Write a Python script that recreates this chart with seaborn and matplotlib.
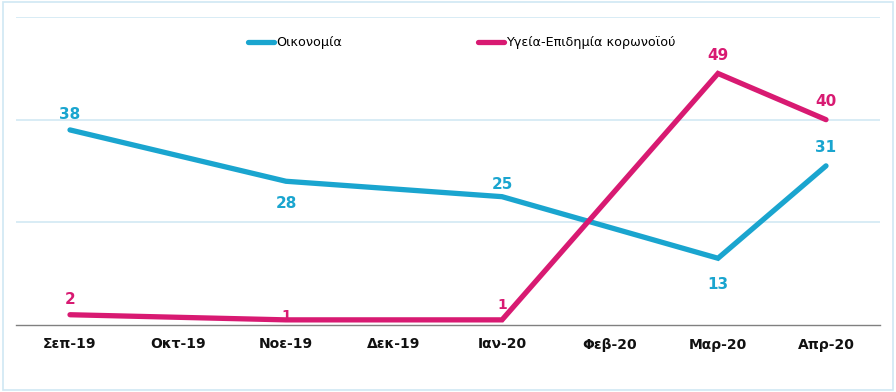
import numpy as np
import pandas as pd
import matplotlib.pyplot as plt
import seaborn as sns

months = ['Σεπ-19', 'Οκτ-19', 'Νοε-19', 'Δεκ-19', 'Ιαν-20', 'Φεβ-20', 'Μαρ-20', 'Απρ-20']
survey_months = ['Σεπ-19', 'Νοε-19', 'Ιαν-20', 'Μαρ-20', 'Απρ-20']
economy = [38, 28, 25, 13, 31]
health = [2, 1, 1, 49, 40]

c_econ = '#1aa5cf'
c_health = '#d81a72'

# long format for seaborn
df = pd.DataFrame({
    'month': survey_months * 2,
    'value': economy + health,
    'series': ['Οικονομία'] * len(economy) + ['Υγεία-Επιδημία κορωνοϊού'] * len(health),
})
df['pos'] = df['month'].map({m: i for i, m in enumerate(months)})

sns.set_style('white')
plt.rcParams['font.family'] = ['DejaVu Sans']

fig = plt.figure(figsize=(8.96, 3.92), dpi=100)
ax = fig.add_axes([16 / 896, 1 - 325 / 392, 864 / 896, 308 / 392])

sns.lineplot(data=df, x='pos', y='value', hue='series',
             palette=[c_econ, c_health], linewidth=3.8, ax=ax,
             solid_capstyle='round', solid_joinstyle='miter')

ax.set_xlim(-0.5, len(months) - 0.5)
ax.set_ylim(0, 60)
ax.set_yticks([20, 40, 60])
ax.yaxis.grid(True, color='#d2e9f3', linewidth=1.2)
ax.tick_params(axis='y', left=False, labelleft=False)
ax.set_xticks(range(len(months)))
ax.set_xticklabels(months, fontsize=10, fontweight='bold', color='#111111')
ax.tick_params(axis='x', length=0, pad=9)
ax.set_xlabel('')
ax.set_ylabel('')
for s in ['top', 'right', 'left']:
    ax.spines[s].set_visible(False)
ax.spines['bottom'].set_color('#808080')
ax.spines['bottom'].set_linewidth(1)

# data labels: (offset in points) above or below
econ_off = [11, -16, 9, -19, 13]
health_off = [11, 3, 11, 13, 13]
for m, v, o in zip(survey_months, economy, econ_off):
    ax.annotate(str(v), (months.index(m), v), xytext=(0, o), textcoords='offset points',
                ha='center', va='center', color=c_econ, fontsize=11, fontweight='bold')
for m, v, o in zip(survey_months, health, health_off):
    ax.annotate(str(v), (months.index(m), v), xytext=(0, o), textcoords='offset points',
                ha='center', va='center', color=c_health, fontsize=11 if v > 1 else 10,
                fontweight='bold')

leg = ax.legend(loc='upper center', bbox_to_anchor=(0.516, 0.975), ncol=2, frameon=False,
                fontsize=9.2, handlelength=2.0, handletextpad=0.15, columnspacing=10.7)
for t in leg.get_texts():
    t.set_color('black')

# thin light-blue frame round the whole picture
fig.patches.append(plt.Rectangle((0.003, 0.006), 0.994, 0.988, transform=fig.transFigure,
                                 fill=False, edgecolor='#cfe8f3', linewidth=1.2))

fig.savefig('out.png', dpi=100)
